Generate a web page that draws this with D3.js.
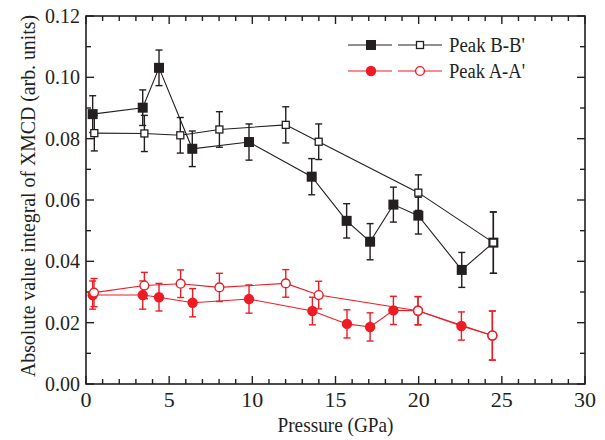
<!DOCTYPE html>
<html>
<head>
<meta charset="utf-8">
<script src="https://cdn.jsdelivr.net/npm/d3@7"></script>
<style>
  body { margin: 0; background: #fff; }
  svg text { font-family: 'Liberation Serif', 'Times New Roman', 'DejaVu Serif', serif; fill: #231f20; }
</style>
</head>
<body>
<svg id="chart" width="605" height="440" font-family="'Liberation Serif', 'Times New Roman', 'DejaVu Serif', serif"></svg>
<script>
// Peak B-B' (filled = B, open = B')
const pressureB  = [0.40, 3.41, 4.39, 6.39, 9.80, 13.57, 15.67, 17.08, 18.48, 19.98, 22.59, 24.49];
const valueB     = [0.0880, 0.0901, 0.1031, 0.0767, 0.0789, 0.0676, 0.0532, 0.0464, 0.0585, 0.0549, 0.0372, 0.0461];
const errorB     = [0.0060, 0.0058, 0.0058, 0.0058, 0.0059, 0.0059, 0.0056, 0.0059, 0.0057, 0.0060, 0.0057, 0.0100];

const pressureBp = [0.50, 3.51, 5.67, 8.02, 12.01, 13.99, 19.98, 24.49];
const valueBp    = [0.0818, 0.0817, 0.0811, 0.0830, 0.0845, 0.0790, 0.0624, 0.0461];
const errorBp    = [0.0058, 0.0059, 0.0058, 0.0058, 0.0059, 0.0058, 0.0058, 0.0100];

// Peak A-A' (filled = A, open = A')
const pressureA  = [0.40, 3.41, 4.39, 6.41, 9.80, 13.61, 15.69, 17.08, 18.48, 19.96, 22.57, 24.43];
const valueA     = [0.0290, 0.0290, 0.0283, 0.0265, 0.0277, 0.0238, 0.0196, 0.0186, 0.0240, 0.0239, 0.0189, 0.0158];
const errorA     = [0.0046, 0.0046, 0.0045, 0.0046, 0.0046, 0.0045, 0.0046, 0.0046, 0.0046, 0.0046, 0.0046, 0.0080];

const pressureAp = [0.48, 3.51, 5.69, 8.02, 12.01, 13.99, 19.96, 24.43];
const valueAp    = [0.0298, 0.0321, 0.0327, 0.0315, 0.0328, 0.0290, 0.0239, 0.0158];
const errorAp    = [0.0046, 0.0043, 0.0045, 0.0046, 0.0045, 0.0045, 0.0046, 0.0080];

const xTicks = [0, 5, 10, 15, 20, 25, 30];
const yTicks = [0.00, 0.02, 0.04, 0.06, 0.08, 0.10, 0.12];
const legendLabels = ["Peak B-B'", "Peak A-A'"];

const BLACK = "#231f20";
const RED = "#ed1c24";
const FONT = "'Liberation Serif', 'Times New Roman', 'DejaVu Serif', serif";

const svg = d3.select("#chart");
const margin = { left: 86, right: 20, top: 16, bottom: 56 };
const W = 605, H = 440;
const x = d3.scaleLinear().domain([0, 30]).range([margin.left, W - margin.right]);
const y = d3.scaleLinear().domain([0, 0.12]).range([H - margin.bottom, margin.top]);

const zip = (xs, ys, es) => xs.map((p, i) => ({ p, v: ys[i], e: es[i] }));
const seriesB  = zip(pressureB, valueB, errorB);
const seriesBp = zip(pressureBp, valueBp, errorBp);
const seriesA  = zip(pressureA, valueA, errorA);
const seriesAp = zip(pressureAp, valueAp, errorAp);

// frame ticks: inward on all four sides
const minorX = d3.range(0, 31, 1);
const minorY = d3.range(0, 0.1201, 0.01);
const frame = svg.append("g").attr("stroke", BLACK).attr("stroke-width", 1.4);

function tickLen(isMajor) { return isMajor ? 8 : 5; }
minorX.forEach(t => {
  const major = t % 5 === 0;
  const L = tickLen(major);
  frame.append("line").attr("x1", x(t)).attr("x2", x(t)).attr("y1", y(0)).attr("y2", y(0) - L);
  frame.append("line").attr("x1", x(t)).attr("x2", x(t)).attr("y1", y(0.12)).attr("y2", y(0.12) + L);
});
minorY.forEach((t, i) => {
  const major = i % 2 === 0;
  const L = tickLen(major);
  frame.append("line").attr("y1", y(t)).attr("y2", y(t)).attr("x1", x(0)).attr("x2", x(0) + L);
  frame.append("line").attr("y1", y(t)).attr("y2", y(t)).attr("x1", x(30)).attr("x2", x(30) - L);
});
svg.append("rect")
  .attr("x", x(0)).attr("y", y(0.12))
  .attr("width", x(30) - x(0)).attr("height", y(0) - y(0.12))
  .attr("fill", "none").attr("stroke", BLACK).attr("stroke-width", 1.6);

const texts = svg.append("g").attr("font-family", FONT).attr("fill", BLACK);

// tick labels
texts.append("g").selectAll("text").data(xTicks).join("text")
  .attr("x", d => x(d)).attr("y", y(0) + 23)
  .attr("text-anchor", "middle").attr("font-size", 22)
  .text(d => d3.format("d")(d));
texts.append("g").selectAll("text").data(yTicks).join("text")
  .attr("x", x(0) - 6).attr("y", d => y(d) + 7)
  .attr("text-anchor", "end").attr("font-size", 20)
  .text(d => d3.format(".2f")(d));

// axis titles (slightly condensed serif)
texts.append("text")
  .attr("x", x(15)).attr("y", 432)
  .attr("text-anchor", "middle").attr("font-size", 21)
  .attr("textLength", 116).attr("lengthAdjust", "spacingAndGlyphs")
  .text("Pressure (GPa)");
texts.append("text")
  .attr("transform", `translate(35,196) rotate(-90)`)
  .attr("text-anchor", "middle").attr("font-size", 20)
  .attr("textLength", 362).attr("lengthAdjust", "spacingAndGlyphs")
  .text("Absolute value integral of XMCD (arb. units)");

const line = d3.line().x(d => x(d.p)).y(d => y(d.v));
const plot = svg.append("g");

function drawLine(data, color) {
  plot.append("path").datum(data).attr("d", line)
    .attr("fill", "none").attr("stroke", color).attr("stroke-width", 1.1);
}
function drawErrors(data, color) {
  const g = plot.append("g").attr("stroke", color).attr("stroke-width", 1.4);
  data.forEach(d => {
    const cx = x(d.p), y1 = y(d.v + d.e), y2 = y(d.v - d.e);
    g.append("line").attr("x1", cx).attr("x2", cx).attr("y1", y1).attr("y2", y2);
    g.append("line").attr("x1", cx - 3.5).attr("x2", cx + 3.5).attr("y1", y1).attr("y2", y1);
    g.append("line").attr("x1", cx - 3.5).attr("x2", cx + 3.5).attr("y1", y2).attr("y2", y2);
  });
}
function drawSquares(data, filled, size) {
  plot.append("g").selectAll("rect").data(data).join("rect")
    .attr("x", d => x(d.p) - size / 2).attr("y", d => y(d.v) - size / 2)
    .attr("width", size).attr("height", size)
    .attr("fill", filled ? BLACK : "#fff")
    .attr("stroke", BLACK).attr("stroke-width", filled ? 0 : 1.3);
}
function drawCircles(data, filled, r) {
  plot.append("g").selectAll("circle").data(data).join("circle")
    .attr("cx", d => x(d.p)).attr("cy", d => y(d.v)).attr("r", r)
    .attr("fill", filled ? RED : "#fff")
    .attr("stroke", RED).attr("stroke-width", filled ? 0 : 1.4);
}

drawLine(seriesB, BLACK);
drawLine(seriesBp, BLACK);
drawLine(seriesA, RED);
drawLine(seriesAp, RED);
drawErrors(seriesB, BLACK);
drawErrors(seriesBp, BLACK);
drawErrors(seriesA, RED);
drawErrors(seriesAp, RED);
drawSquares(seriesB, true, 10);
drawSquares(seriesBp, false, 7);
drawCircles(seriesA, true, 5.2);
drawCircles(seriesAp, false, 4.4);

// legend
const legend = svg.append("g");
const legendRows = [
  { y: 45, color: BLACK, shape: "square", label: legendLabels[0] },
  { y: 71, color: RED, shape: "circle", label: legendLabels[1] }
];
legendRows.forEach(row => {
  legend.append("line").attr("x1", 348).attr("x2", 392).attr("y1", row.y).attr("y2", row.y)
    .attr("stroke", row.color).attr("stroke-width", 1.1);
  legend.append("line").attr("x1", 398).attr("x2", 442).attr("y1", row.y).attr("y2", row.y)
    .attr("stroke", row.color).attr("stroke-width", 1.1);
  if (row.shape === "square") {
    legend.append("rect").attr("x", 371 - 5).attr("y", row.y - 5).attr("width", 10).attr("height", 10)
      .attr("fill", BLACK);
    legend.append("rect").attr("x", 420 - 3.5).attr("y", row.y - 3.5).attr("width", 7).attr("height", 7)
      .attr("fill", "#fff").attr("stroke", BLACK).attr("stroke-width", 1.3);
  } else {
    legend.append("circle").attr("cx", 371).attr("cy", row.y).attr("r", 5.2).attr("fill", RED);
    legend.append("circle").attr("cx", 420).attr("cy", row.y).attr("r", 4.4)
      .attr("fill", "#fff").attr("stroke", RED).attr("stroke-width", 1.4);
  }
  legend.append("text").attr("x", 449).attr("y", row.y + 7).attr("font-size", 20)
    .attr("textLength", 76).attr("lengthAdjust", "spacingAndGlyphs")
    .attr("font-family", FONT).attr("fill", BLACK)
    .text(row.label);
});
</script>
</body>
</html>
